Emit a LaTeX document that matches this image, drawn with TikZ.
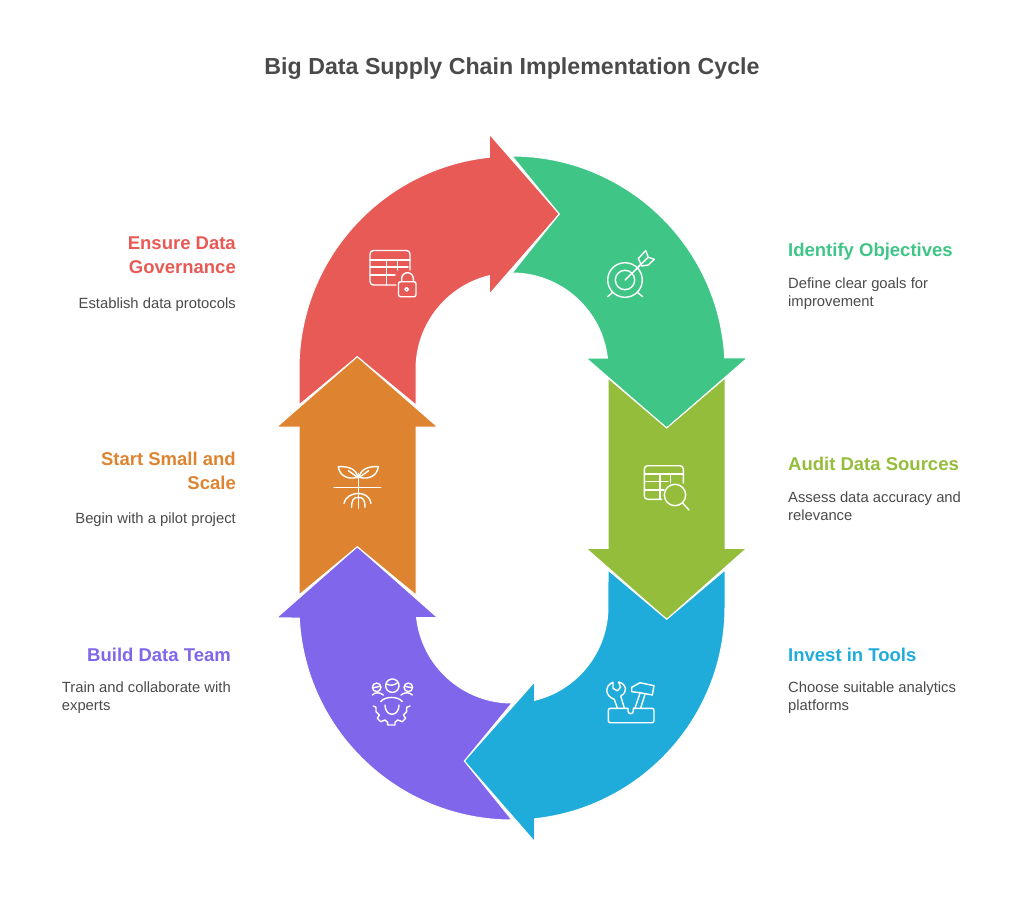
\documentclass[tikz,border=0pt]{standalone}
\usepackage{fontspec}
\setmainfont{Liberation Sans}
\usetikzlibrary{positioning}
\definecolor{redarrow}{HTML}{E85A56}
\definecolor{greenarrow}{HTML}{3FC687}
\definecolor{olivearrow}{HTML}{94BD3B}
\definecolor{bluearrow}{HTML}{20ACDB}
\definecolor{purplearrow}{HTML}{7F66EA}
\definecolor{orangearrow}{HTML}{DE8430}
\definecolor{bodytext}{HTML}{4A4A4A}

\begin{document}
\begin{tikzpicture}[x=1pt,y=-1pt]
  \tikzstyle{arrowpart}=[draw=white,line width=1pt,line join=miter]
  \tikzstyle{icon}=[draw=white,line width=1.4pt,line join=round,line cap=round]
  \tikzstyle{head}=[font=\fontsize{18.5}{24}\selectfont\bfseries,inner sep=0pt,execute at begin node=\strut,execute at end node=\strut]
  \tikzstyle{headl}=[head,align=left]
  \tikzstyle{headr}=[head,align=right]
  \tikzstyle{desc}=[font=\fontsize{14.8}{18}\selectfont,text=bodytext,inner sep=0pt,execute at begin node=\strut]
  \useasboundingbox (0,0) rectangle (1024,905);

  % arrows
  \fill[arrowpart,fill=redarrow] (299,405) -- (299,369) arc[start angle=180,end angle=263.9,radius=213]
    -- (489.3,134) -- (559.3,214) -- (489.3,294.3) -- (489.3,275.7)
    arc[start angle=256.3,end angle=180,radius=96] -- (416,405) -- (357.3,356.7) -- cycle;
  \fill[arrowpart,fill=greenarrow] (512,156) arc[start angle=270,end angle=357,radius=213]
    -- (747.3,358) -- (666.7,428) -- (586,358) -- (607.4,358)
    arc[start angle=353.4,end angle=270,radius=96] -- (559.3,214) -- cycle;
  \fill[arrowpart,fill=olivearrow] (608,378) -- (666.7,428) -- (725,378) -- (725,548.3) -- (746.7,548.3)
    -- (666.7,619.3) -- (586,548.3) -- (608,548.3) -- cycle;
  \fill[arrowpart,fill=bluearrow] (725,570) -- (725,607) arc[start angle=0,end angle=83.9,radius=213]
    -- (534.7,841.7) -- (464.3,761) -- (534.7,681.7) -- (534.7,700.3)
    arc[start angle=76.3,end angle=0,radius=96] -- (608,570) -- (666.7,619.3) -- cycle;
  \fill[arrowpart,fill=purplearrow] (512,820) arc[start angle=90,end angle=177,radius=213]
    -- (276.7,617.7) -- (357.3,546.7) -- (437.7,617.7) -- (416.6,617.7)
    arc[start angle=173.6,end angle=90,radius=96] -- (464.3,761) -- cycle;
  \fill[arrowpart,fill=orangearrow] (299,595) -- (357.3,546.7) -- (416,595) -- (416,427) -- (437.7,427)
    -- (357.3,356.7) -- (276.7,427) -- (299,427) -- cycle;

  % icon red, table and lock
  \draw[icon] (410,270) -- (410,254) arc[start angle=0,end angle=-90,radius=3.5] -- (373.5,250.5)
    arc[start angle=-90,end angle=-180,radius=3.5] -- (370,281.5) arc[start angle=180,end angle=90,radius=3.5] -- (396,285);
  \draw[icon] (370,260) -- (410,260) (370,267) -- (408,267) (370,275) -- (395,275)
    (386.7,260) -- (386.7,285) (397.3,260) -- (397.3,270);
  \draw[icon,rounded corners=2pt] (398.5,281.7) rectangle (416,296.7);
  \draw[icon] (401.7,281.7) -- (401.7,278.5) arc[start angle=180,end angle=360,radius=5.8] -- (413.3,281.7);
  \draw[icon] (406.7,289.3) circle[radius=1.8];

  % icon green, target
  \draw[icon] (625,280) circle[radius=17.3] (625,280) circle[radius=9.7];
  \draw[icon] (625,280) -- (641,264.5);
  \draw[icon] (638.3,258.3) -- (645.7,250.7) -- (648.3,257.3) -- (654.3,259.3) -- (648.3,265) -- (641.7,266) -- cycle;
  \draw[icon] (648,257.5) -- (638,267);
  \draw[icon] (612.7,292.3) -- (607.7,296.7) (637.3,292.3) -- (642.7,296.7);

  % icon olive, table and magnifier
  \draw[icon] (683.3,483) -- (683.3,469) arc[start angle=0,end angle=-90,radius=3.3] -- (647.6,465.7)
    arc[start angle=-90,end angle=-180,radius=3.3] -- (644.3,496) arc[start angle=180,end angle=90,radius=3.3] -- (661.7,499.3);
  \draw[icon] (644.3,474) -- (683.3,474) (644.3,481.7) -- (668,481.7) (644.3,490) -- (664,490)
    (660,474) -- (660,499.3) (670.7,474) -- (670.7,483);
  \draw[icon] (675,495) circle[radius=10.7];
  \draw[icon] (682.3,502.7) -- (689,510);

  % icon blue, wrench and hammer
  \draw[icon,rounded corners=2pt] (628,708.3) -- (608.3,708.3) -- (608.3,722.7) -- (654,722.7) -- (654,708.3) -- (633.5,708.3);
  \draw[icon] (628,708.3) -- (628,711) arc[start angle=180,end angle=0,radius=2.7] -- (633.4,708.3);
  \draw[icon] (617.3,708) -- (614.3,699.3) .. controls (605,696) and (604,686) .. (613,682.2)
    -- (613,688.3) -- (617.3,690.8) -- (620.6,687.3) -- (618.6,682) .. controls (627,684) and (628,692) .. (620.7,696) -- (624.3,708);
  \draw[icon] (635,708) -- (640,693) (640.7,708) -- (645,694.3);
  \draw[icon] (631.7,687.3) -- (640,682.7) -- (654,685.7) -- (652.3,695) -- (640,692.7) -- (631.7,691.7) -- cycle;

  % icon purple, team and gear
  \begin{scope}[shift={(350,670)},x=0.3333pt,y=-0.3333pt]
    \draw[icon] (127,47) circle[radius=6.7pt] (80,52) circle[radius=4.3pt] (175,52) circle[radius=4.3pt];
    \draw[icon] (110,42) .. controls (122,48) and (132,46) .. (143,38);
    \draw[icon] (70,53) -- (90,49) (165,49) -- (185,53);
    \draw[icon] (67,75) .. controls (75,66) and (90,66) .. (100,75);
    \draw[icon] (153,75) .. controls (163,66) and (178,66) .. (187,75);
    \draw[icon] (92,95) .. controls (105,78) and (145,78) .. (157,95);
    \draw[icon] (105,105) .. controls (105,142) and (147,142) .. (147,105);
    \draw[icon] (70,108) -- (78,112) -- (78,125) -- (88,135) -- (82,145) -- (92,155) -- (105,150) -- (113,157) -- (113,165)
      -- (135,165) -- (135,157) -- (143,150) -- (157,155) -- (167,145) -- (160,135) -- (170,125) -- (170,112) -- (180,108);
  \end{scope}

  % icon orange, sprout and roots
  \begin{scope}[shift={(320,450)},x=0.3333pt,y=-0.3333pt]
    \draw[icon] (42,113) -- (182,113) (115,70) -- (115,175);
    \draw[icon] (113,82) .. controls (110,60) and (90,48) .. (55,50) .. controls (58,75) and (80,90) .. (113,82);
    \draw[icon] (118,82) .. controls (121,60) and (141,48) .. (175,50) .. controls (172,75) and (150,90) .. (118,82);
    \draw[icon] (113,82) -- (85,62) (118,82) -- (146,62);
    \draw[icon] (115,130) .. controls (95,132) and (78,138) .. (72,160);
    \draw[icon] (115,130) .. controls (135,132) and (148,138) .. (153,160);
    \draw[icon] (115,142) .. controls (100,142) and (95,150) .. (95,172);
    \draw[icon] (115,142) .. controls (130,142) and (135,150) .. (135,172);
  \end{scope}

  % title
  \node[font=\fontsize{23.2}{28}\selectfont\bfseries,text=bodytext,inner sep=0pt] (title) at (512,68.5) {Big Data Supply Chain Implementation Cycle};

  % labels right
  \node[headl,text=greenarrow,anchor=north west] (objhead) at (788,239) {Identify Objectives};
  \node[desc,align=left,below=14pt of objhead.south west,anchor=north west] (objdesc) {Define clear goals for\\improvement};
  \node[headl,text=olivearrow,anchor=north west] (audithead) at (788,453) {Audit Data Sources};
  \node[desc,align=left,below=14pt of audithead.south west,anchor=north west] (auditdesc) {Assess data accuracy and\\relevance};
  \node[headl,text=bluearrow,anchor=north west] (toolshead) at (788,644) {Invest in Tools};
  \node[desc,align=left,below=13pt of toolshead.south west,anchor=north west] (toolsdesc) {Choose suitable analytics\\platforms};

  % labels left
  \node[headr,text=redarrow,anchor=north east] (govhead) at (236,237) {Ensure Data\\Governance};
  \node[desc,align=right,below=14pt of govhead.south east,anchor=north east] (govdesc) {Establish data protocols};
  \node[headr,text=orangearrow,anchor=north east] (scalehead) at (236,451.5) {Start Small and\\Scale};
  \node[desc,align=right,below=14pt of scalehead.south east,anchor=north east] (scaledesc) {Begin with a pilot project};
  \node[headr,text=purplearrow,anchor=north east] (teamhead) at (231,644) {Build Data Team};
  \node[desc,align=left,below=13pt of teamhead.south east,anchor=north east] (teamdesc) {Train and collaborate with\\experts};
\end{tikzpicture}
\end{document}
